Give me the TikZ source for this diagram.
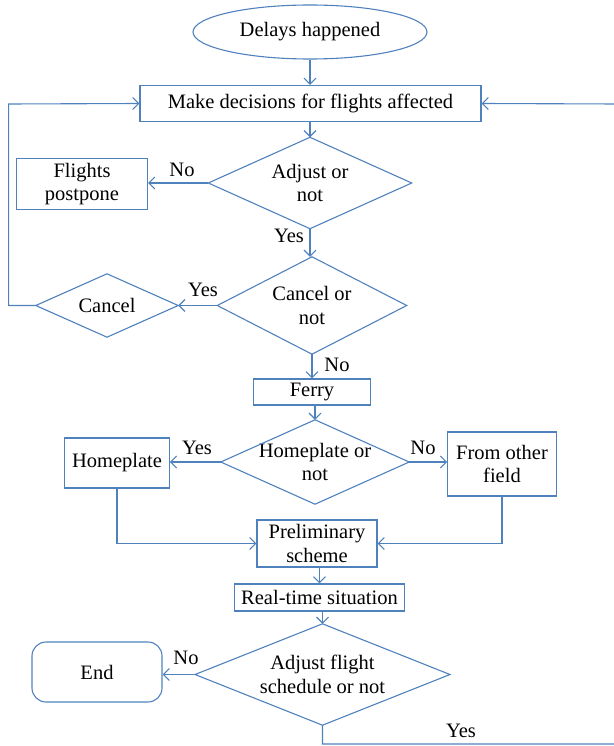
\documentclass[tikz,border=0pt]{standalone}
\usepackage{fontspec}
\setmainfont{Liberation Serif}
\usetikzlibrary{arrows.meta,shapes.geometric}
\definecolor{fblue}{RGB}{79,129,189}
\begin{document}
\begin{tikzpicture}[x=1pt,y=-1pt,
  every node/.style={font=\fontsize{20.5}{23.5}\selectfont, text=black},
  ln/.style={draw=fblue, line width=1.1pt},
  arr/.style={ln, -{Straight Barb[length=6pt,width=12pt]}},
  box/.style={ln, rectangle, inner sep=0pt, align=center},
  dia/.style={rectangle, inner sep=0pt, align=center},
  lbl/.style={inner sep=0pt}]
\useasboundingbox (0,0) rectangle (613,746);

\node[ln, ellipse, inner sep=0pt, minimum width=234, minimum height=54] (start) at (310,32) {Delays happened};
\node[box, minimum width=341, minimum height=36] (make) at (310.5,103.5) {Make decisions for flights affected};
\node[dia, minimum width=203, minimum height=91] (adj) at (310,183) {Adjust or\\not};
\node[box, minimum width=131, minimum height=51] (post) at (82,184) {Flights\\postpone};
\node[dia, minimum width=189, minimum height=97] (canq) at (312,305.5) {Cancel or\\not};
\node[dia, minimum width=142, minimum height=63] (cancel) at (107,305.5) {Cancel};
\node[box, minimum width=117, minimum height=26] (ferry) at (312,392) {Ferry};
\node[dia, minimum width=188, minimum height=84] (homeq) at (315,462) {Homeplate or\\not};
\node[box, minimum width=104.5, minimum height=50] (home) at (117,463) {Homeplate};
\node[box, minimum width=108.5, minimum height=64] (other) at (502,464) {From other\\field};
\node[box, minimum width=120, minimum height=47] (prelim) at (317,543.5) {Preliminary\\scheme};
\node[box, minimum width=170, minimum height=27] (real) at (319.5,597.5) {Real-time situation};
\node[dia, minimum width=254.5, minimum height=101] (fsq) at (322.5,674.5) {Adjust flight\\schedule or not};
\node[box, rounded corners=14pt, minimum width=130, minimum height=60] (endn) at (97,672) {End};

\foreach \n in {adj,canq,cancel,homeq,fsq}
  \draw[ln] (\n.north) -- (\n.east) -- (\n.south) -- (\n.west) -- cycle;

\coordinate (lt) at (8.6,104);
\coordinate (rt) at (618,104);
\coordinate (rb) at (618,744);

\draw[arr] (start.south) -- (start.south |- make.north);
\draw[arr] (make.south -| adj.north) -- (adj.north);
\draw[arr] (adj.west) -- (adj.west -| post.east);
\draw[arr] (adj.south) -- (adj.south |- canq.north);
\draw[arr] (canq.west) -- (cancel.east);
\draw[arr] (cancel.west) -- (cancel.west -| lt) -- (lt) -- (make.west);
\draw[arr] (canq.south) -- (canq.south |- ferry.north);
\draw[arr] (ferry.south -| homeq.north) -- (homeq.north);
\draw[arr] (homeq.west) -- (homeq.west -| home.east);
\draw[arr] (homeq.east) -- (homeq.east -| other.west);
\draw[arr] (home.south) -- (home.south |- prelim.west) -- (prelim.west);
\draw[arr] (other.south) -- (other.south |- prelim.east) -- (prelim.east);
\draw[arr] (prelim.south -| real.north) -- (real.north);
\draw[arr] (real.south -| fsq.north) -- (fsq.north);
\draw[arr] (fsq.west) -- (fsq.west -| endn.east);
\draw[arr] (fsq.south) -- (fsq.south |- rb) -- (rb) -- (rt) -- (make.east);

\node[lbl] (l1) at (182,170) {No};
\node[lbl] (l2) at (289,236) {Yes};
\node[lbl] (l3) at (203,290) {Yes};
\node[lbl] (l4) at (337,365) {No};
\node[lbl] (l5) at (197,448) {Yes};
\node[lbl] (l6) at (423,448) {No};
\node[lbl] (l7) at (186,658) {No};
\node[lbl] (l8) at (461,731) {Yes};
\end{tikzpicture}
\end{document}
